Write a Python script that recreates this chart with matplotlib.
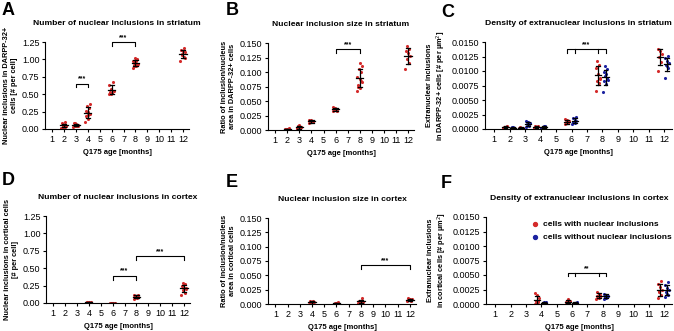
import numpy as np
import matplotlib
matplotlib.use('Agg')
from matplotlib import pyplot as plt
from matplotlib.ticker import FormatStrFormatter

plt.rcParams['font.family'] = ['Liberation Sans', 'DejaVu Sans']

RED = '#d42a2a'
BLUE = '#1c22a0'

ages = [1, 2, 3, 4, 5, 6, 7, 8, 9, 10, 11, 12]

# A - number of nuclear inclusions, striatum
a_str_num = {
    2: [0.02, 0.03, 0.04, 0.05, 0.06, 0.08, 0.10, 0.03, 0.05],
    3: [0.03, 0.04, 0.05, 0.06, 0.07, 0.08, 0.05, 0.09, 0.04],
    4: [0.10, 0.15, 0.18, 0.22, 0.24, 0.26, 0.30, 0.33, 0.36, 0.20],
    6: [0.50, 0.52, 0.53, 0.55, 0.58, 0.63, 0.68, 0.51],
    8: [0.88, 0.90, 0.92, 0.94, 0.96, 0.98, 1.00, 1.02, 0.93, 0.97, 0.91],
    12: [0.98, 1.04, 1.07, 1.10, 1.12, 1.14, 1.16, 1.08, 1.02],
}
# B - inclusion size, striatum
b_str_size = {
    2: [0.0, 0.001, 0.002, 0.003, 0.001, 0.0015],
    3: [0.001, 0.002, 0.004, 0.006, 0.008, 0.003, 0.005, 0.007],
    4: [0.012, 0.014, 0.015, 0.016, 0.017, 0.018, 0.013],
    6: [0.032, 0.034, 0.035, 0.036, 0.038, 0.040, 0.033],
    8: [0.068, 0.072, 0.078, 0.082, 0.088, 0.092, 0.100, 0.105, 0.110, 0.116, 0.075, 0.085],
    12: [0.105, 0.115, 0.122, 0.128, 0.132, 0.136, 0.140, 0.144],
}
# C - extranuclear density, striatum (with / without nuclear inclusions)
c_str_with = {
    2: [0.0002, 0.0003, 0.0004, 0.0005, 0.0003],
    3: [0.0001, 0.0002, 0.0003, 0.0002],
    4: [0.0002, 0.0004, 0.0005, 0.0006, 0.0003],
    6: [0.0008, 0.0010, 0.0012, 0.0014, 0.0016, 0.0018, 0.0011],
    8: [0.0066, 0.0080, 0.0083, 0.0086, 0.0095, 0.0105, 0.0110, 0.0118, 0.0088],
    12: [0.0100, 0.0115, 0.0125, 0.0130, 0.0135, 0.0138],
}
c_str_without = {
    2: [0.0001, 0.0002, 0.0003, 0.0002, 0.0003],
    3: [0.0004, 0.0006, 0.0008, 0.0010, 0.0012, 0.0013, 0.0007],
    4: [0.0002, 0.0003, 0.0004, 0.0005, 0.0006],
    6: [0.0008, 0.0010, 0.0012, 0.0014, 0.0016, 0.0019, 0.0021],
    8: [0.0063, 0.0078, 0.0082, 0.0088, 0.0092, 0.0098, 0.0104, 0.0108, 0.0085, 0.0095],
    12: [0.0088, 0.0105, 0.0110, 0.0114, 0.0118, 0.0122, 0.0126, 0.0108],
}
# D - number of nuclear inclusions, cortex
d_ctx_num = {
    4: [0.0, 0.005, 0.01, 0.015, 0.02, 0.008],
    6: [0.0, 0.002, 0.004, 0.006, 0.003],
    8: [0.06, 0.07, 0.08, 0.09, 0.10, 0.11, 0.12, 0.085],
    12: [0.12, 0.15, 0.18, 0.20, 0.22, 0.25, 0.27, 0.29, 0.21],
}
# E - inclusion size, cortex
e_ctx_size = {
    4: [0.0, 0.001, 0.002, 0.003, 0.004, 0.005, 0.006, 0.002],
    6: [0.0, 0.001, 0.002, 0.003, 0.001],
    8: [0.001, 0.002, 0.003, 0.004, 0.005, 0.006, 0.011, 0.003],
    12: [0.005, 0.006, 0.007, 0.008, 0.009, 0.010, 0.007],
}
# F - extranuclear density, cortex
f_ctx_with = {
    4: [0.0, 0.0003, 0.0006, 0.0010, 0.0015, 0.0019, 0.0005, 0.0002],
    6: [0.0, 0.0002, 0.0004, 0.0006, 0.0008, 0.0003],
    8: [0.0008, 0.0011, 0.0013, 0.0015, 0.0018, 0.0021, 0.0012],
    12: [0.0010, 0.0015, 0.0020, 0.0025, 0.0030, 0.0035, 0.0040, 0.0022],
}
f_ctx_without = {
    4: [0.0, 0.0001, 0.0002, 0.0003, 0.0004],
    6: [0.0, 0.0001, 0.0002, 0.0003],
    8: [0.0008, 0.0010, 0.0012, 0.0014, 0.0016, 0.0018, 0.0013],
    12: [0.0012, 0.0016, 0.0020, 0.0024, 0.0028, 0.0032, 0.0038, 0.0018],
}

W, H = 674, 331
fig = plt.figure(figsize=(W / 100, H / 100), dpi=100)


def make_ax(l, t, r, b):
    return fig.add_axes([l / W, 1 - b / H, (r - l) / W, (b - t) / H])


def group(ax, x, vals, color, spread=0.45, mw=0.6, cw=0.35):
    vals = np.array(vals)
    n = len(vals)
    off = ((np.arange(n) * 0.618) % 1 - 0.5) * spread
    ax.scatter(x + off, vals, s=5, color=color, linewidths=0, zorder=2)
    m, sd = vals.mean(), vals.std(ddof=1)
    ax.plot([x - mw / 2, x + mw / 2], [m, m], color='black', lw=0.9, zorder=3)
    ax.plot([x, x], [m - sd, m + sd], color='black', lw=0.9, zorder=3)
    for yy in (m - sd, m + sd):
        ax.plot([x - cw / 2, x + cw / 2], [yy, yy], color='black', lw=0.9, zorder=3)


def bracket(ax, x1, x2, y, leg, text, inner=()):
    ax.plot([x1, x1, x2, x2], [y - leg, y, y, y - leg], color='black', lw=0.8, clip_on=False)
    for xi in inner:
        ax.plot([xi, xi], [y, y - leg], color='black', lw=0.8, clip_on=False)
    ax.text((x1 + x2) / 2, y + leg * 0.3, text, ha='center', va='bottom', fontsize=5, fontweight='bold')


def style(ax, title, ylabel, ymax, step, fmt):
    ax.set_xlim(0.4, 12.5)
    ax.set_ylim(0, ymax)
    ax.set_xticks(ages)
    ax.set_yticks(np.arange(0, ymax + step / 2, step))
    ax.yaxis.set_major_formatter(FormatStrFormatter(fmt))
    for s in ('top', 'right'):
        ax.spines[s].set_visible(False)
    for s in ('left', 'bottom'):
        ax.spines[s].set_linewidth(0.8)
    ax.tick_params(labelsize=6.5, length=2.5, width=0.8, pad=1.5)
    ax.set_title(title, fontsize=6.1, fontweight='bold', pad=12)
    ax.set_ylabel(ylabel, fontsize=5.3, fontweight='bold', labelpad=3)
    ax.set_xlabel('Q175 age [months]', fontsize=5.5, fontweight='bold', labelpad=4)


# A
ax = make_ax(45, 42, 189, 129)
for k, v in a_str_num.items():
    group(ax, k, v, RED)
bracket(ax, 3, 4, 0.65, 0.05, '***')
bracket(ax, 6, 8, 1.25, 0.06, '***')
style(ax, 'Number of nuclear inclusions in striatum',
      'Nuclear inclusions in DARPP-32+\ncells [# per cell]', 1.25, 0.25, '%.2f')

# B
ax = make_ax(268, 43, 414, 130)
for k, v in b_str_size.items():
    group(ax, k, v, RED)
bracket(ax, 6, 8, 0.139, 0.006, '***')
style(ax, 'Nuclear inclusion size in striatum',
      'Ratio of inclusion/nucleus\narea in DARPP-32+ cells', 0.150, 0.025, '%.3f')

# C
ax = make_ax(485, 42, 672, 129)
for k, v in c_str_with.items():
    group(ax, k - 0.27, v, RED, spread=0.3, mw=0.4, cw=0.25)
for k, v in c_str_without.items():
    group(ax, k + 0.2, v, BLUE, spread=0.3, mw=0.4, cw=0.25)
bracket(ax, 6 - 0.27, 8 + 0.2, 0.01374, 0.0006, '***', inner=(6 + 0.2, 8 - 0.27))
style(ax, 'Density of extranuclear inclusions in striatum',
      'Extranuclear inclusions\nin DARPP-32+ cells [# per µm$^2$]', 0.015, 0.0025, '%.4f')

# D
ax = make_ax(46, 216, 190, 303)
for k, v in d_ctx_num.items():
    group(ax, k, v, RED)
bracket(ax, 6, 8, 0.39, 0.06, '***')
bracket(ax, 8, 12, 0.675, 0.06, '***')
style(ax, 'Number of nuclear inclusions in cortex',
      'Nuclear inclusions in cortical cells\n[# per cell]', 1.25, 0.25, '%.2f')

# E
ax = make_ax(268, 218, 416, 304)
for k, v in e_ctx_size.items():
    group(ax, k, v, RED)
bracket(ax, 8, 12, 0.0675, 0.006, '***')
style(ax, 'Nuclear inclusion size in cortex',
      'Ratio of inclusion/nucleus\narea in cortical cells', 0.150, 0.025, '%.3f')

# F
ax = make_ax(486, 217, 672, 304)
for k, v in f_ctx_with.items():
    group(ax, k - 0.27, v, RED, spread=0.3, mw=0.4, cw=0.25)
for k, v in f_ctx_without.items():
    group(ax, k + 0.2, v, BLUE, spread=0.3, mw=0.4, cw=0.25)
bracket(ax, 6 - 0.27, 8 + 0.2, 0.0054, 0.0005, '**', inner=(6 + 0.2, 8 - 0.27))
style(ax, 'Density of extranuclear inclusions in cortex',
      'Extranuclear inclusions\nin cortical cells [# per µm$^2$]', 0.015, 0.0025, '%.4f')
ax.scatter([], [], s=8, color=RED, label='cells with nuclear inclusions')
ax.scatter([], [], s=8, color=BLUE, label='cells without nuclear inclusions')
leg = ax.legend(loc='upper left', bbox_to_anchor=(0.22, 1.0), frameon=False,
                prop={'size': 6, 'weight': 'bold'}, handletextpad=0.3,
                labelspacing=0.6, borderaxespad=0, handlelength=1.2)

# panel letters
for lbl, x, y in [('A', 2, 2), ('B', 226, 2), ('C', 441, 4),
                  ('D', 2, 172), ('E', 226, 174), ('F', 441, 175)]:
    fig.text(x / W, 1 - y / H, lbl, fontsize=13, fontweight='bold', va='top', ha='left')

fig.savefig('out.png', dpi=100)
